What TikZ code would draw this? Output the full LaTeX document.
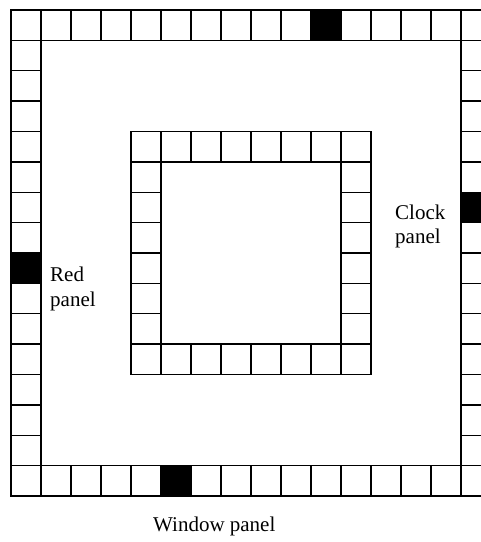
\documentclass[tikz,border=0pt]{standalone}
\usepackage{fontspec}
\setmainfont{Liberation Serif}
\begin{document}
\begin{tikzpicture}[x=1pt,y=1pt,
  cell/.style={draw=black,line width=1.4pt,fill=white},
  blackcell/.style={draw=black,line width=1.4pt,fill=black},
  lbl/.style={font=\fontsize{21}{25}\selectfont,inner sep=0pt,anchor=base west}]
\useasboundingbox (0,0) rectangle (481,542);
\begin{scope}
\clip (0,0) rectangle (481,542);
\begin{scope}[shift={(11,532)},x=30pt,y=-30.375pt]
  % outer ring
  \foreach \i in {0,...,15} {
    \draw[cell] (\i,0) rectangle ++(1,1);
    \draw[cell] (\i,15) rectangle ++(1,1);
  }
  \foreach \j in {1,...,14} {
    \draw[cell] (0,\j) rectangle ++(1,1);
    \draw[cell] (15,\j) rectangle ++(1,1);
  }
  \draw[blackcell] (10,0) rectangle ++(1,1);
  \draw[blackcell] (5,15) rectangle ++(1,1);
  \draw[blackcell] (0,8) rectangle ++(1,1);
  \draw[blackcell] (15,6) rectangle ++(1,1);
  % inner ring
  \foreach \i in {4,...,11} {
    \draw[cell] (\i,4) rectangle ++(1,1);
    \draw[cell] (\i,11) rectangle ++(1,1);
  }
  \foreach \j in {5,...,10} {
    \draw[cell] (4,\j) rectangle ++(1,1);
    \draw[cell] (11,\j) rectangle ++(1,1);
  }
\end{scope}
\end{scope}
\node[lbl] (red1) at (50,{542-282}) {Red};
\node[lbl] (red2) at (50,{542-307}) {panel};
\node[lbl] (clock1) at (395,{542-220}) {Clock};
\node[lbl] (clock2) at (395,{542-244}) {panel};
\node[lbl] (window) at (153,{542-531}) {Window panel};
\end{tikzpicture}
\end{document}
